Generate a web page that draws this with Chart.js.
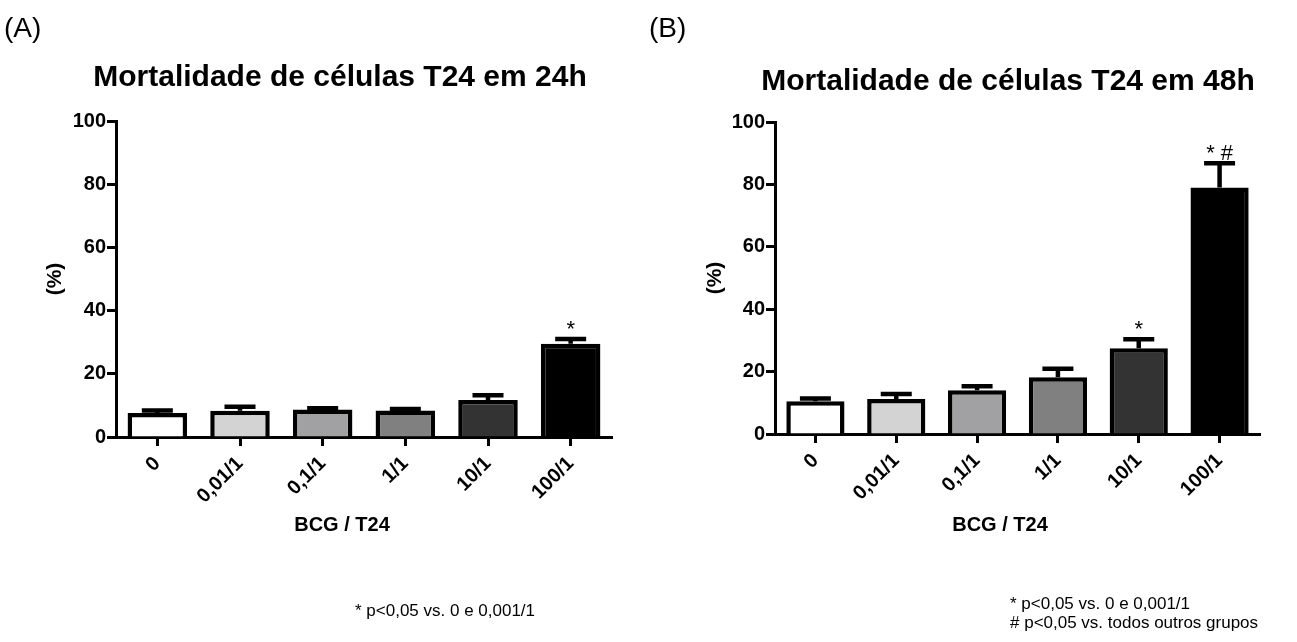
<!DOCTYPE html>
<html>
<head>
<meta charset="utf-8">
<script src="https://cdn.jsdelivr.net/npm/chart.js@4.4.1/dist/chart.umd.min.js"></script>
<style>
  html, body { margin: 0; padding: 0; background: #fff; }
  body { width: 1297px; height: 642px; position: relative; overflow: hidden;
         font-family: "Liberation Sans", Arial, sans-serif; color: #000; }
  .panel { position: absolute; top: 0; height: 642px; }
  #wrapA { left: 0; width: 650px; }
  #wrapB { left: 650px; width: 647px; }
  .txt { position: absolute; white-space: nowrap; line-height: 1; }
  .letter { font-size: 28px; }
  .title { font-size: 30px; font-weight: bold; transform: translate(-50%, -50%); }
  .axis { font-size: 20px; font-weight: bold; transform: translate(-50%, -50%); }
  .note { font-size: 17px; transform: translateY(-50%); }
</style>
</head>
<body>
<div class="panel" id="wrapA"><canvas id="chartA" width="650" height="642"></canvas></div>
<div class="panel" id="wrapB"><canvas id="chartB" width="647" height="642"></canvas></div>

<div class="txt letter" style="left:4px; top:14px;">(A)</div>
<div class="txt letter" style="left:649px; top:14px;">(B)</div>
<div class="txt title" style="left:340px; top:76px;">Mortalidade de células T24 em 24h</div>
<div class="txt title" style="left:1008px; top:80px;">Mortalidade de células T24 em 48h</div>
<div class="txt axis" style="left:342px; top:524px;">BCG / T24</div>
<div class="txt axis" style="left:1000px; top:524px;">BCG / T24</div>
<div class="txt note" style="left:355px; top:610px;">* p&lt;0,05 vs. 0 e 0,001/1</div>
<div class="txt note" style="left:1010px; top:603px;">* p&lt;0,05 vs. 0 e 0,001/1</div>
<div class="txt note" style="left:1010px; top:622px;"># p&lt;0,05 vs. todos outros grupos</div>

<script>
// BCG : T24 ratios on the x axis
const ratios = ['0', '0,01/1', '0,1/1', '1/1', '10/1', '100/1'];
const yTicks = [0, 20, 40, 60, 80, 100];

// Mortality (%) after 24 h, with upper error (SEM)
const mortality24h = [7.6, 8.3, 8.7, 8.4, 11.7, 29.5];
const error24h     = [0.8, 1.3, 0.4, 0.5, 1.5, 1.5];
const marks24h     = ['', '', '', '', '', '*'];

// Mortality (%) after 48 h, with upper error (SEM)
const mortality48h = [10.5, 11.2, 14.0, 18.2, 27.5, 79.0];
const error48h     = [0.9, 1.6, 1.3, 2.7, 2.9, 7.8];
const marks48h     = ['', '', '', '', '*', '* #'];

// Grey ramp used for the bars, light to dark
const barFills = ['#ffffff', '#d3d3d3', '#a1a1a4', '#808080', '#333333', '#000000'];

const FONT = '"Liberation Sans", Arial, sans-serif';

// Draws one-sided error bars with caps and the significance marks above them
const errorBars = {
  id: 'errorBars',
  afterDatasetsDraw(chart, args, opts) {
    const { ctx } = chart;
    const yScale = chart.scales.y;
    const values = chart.data.datasets[0].data;
    const meta = chart.getDatasetMeta(0);
    ctx.save();
    ctx.strokeStyle = '#000';
    ctx.fillStyle = '#000';
    ctx.lineWidth = 4.5;
    meta.data.forEach((bar, i) => {
      const base = yScale.getPixelForValue(values[i]);
      const top = yScale.getPixelForValue(values[i] + opts.errors[i]);
      const half = opts.capWidth / 2;
      ctx.beginPath();
      ctx.moveTo(bar.x, base);
      ctx.lineTo(bar.x, top);
      ctx.moveTo(bar.x - half, top);
      ctx.lineTo(bar.x + half, top);
      ctx.stroke();
      const mark = opts.marks[i];
      if (mark) {
        ctx.font = '22px ' + FONT;
        ctx.textAlign = 'center';
        ctx.textBaseline = 'alphabetic';
        ctx.fillText(mark, bar.x, top - 3);
      }
    });
    ctx.restore();
  }
};

function makeChart(id, values, errors, marks, pad, yWidth, xHeight) {
  return new Chart(document.getElementById(id), {
    type: 'bar',
    data: {
      labels: ratios,
      datasets: [{
        data: values,
        backgroundColor: barFills,
        borderColor: '#000',
        borderWidth: 4.5,
        borderSkipped: 'start',
        barPercentage: 0.72,
        categoryPercentage: 1.0
      }]
    },
    options: {
      responsive: false,
      animation: false,
      events: [],
      layout: { padding: pad },
      plugins: {
        legend: { display: false },
        tooltip: { enabled: false },
        errorBars: { errors, marks, capWidth: 31 }
      },
      scales: {
        x: {
          offset: true,
          grid: { display: true, drawOnChartArea: false, drawTicks: true, offset: false,
                  tickLength: 9, tickWidth: 3, tickColor: '#000' },
          border: { display: true, color: '#000', width: 3 },
          ticks: { color: '#000', font: { family: FONT, size: 20, weight: 'bold' },
                   minRotation: 45, maxRotation: 45, autoSkip: false, padding: 6 },
          afterFit(scale) { scale.height = xHeight; }
        },
        y: {
          min: 0, max: 100,
          afterBuildTicks(scale) { scale.ticks = yTicks.map(v => ({ value: v })); },
          grid: { display: true, drawOnChartArea: false, drawTicks: true,
                  tickLength: 9, tickWidth: 3, tickColor: '#000' },
          border: { display: true, color: '#000', width: 3 },
          ticks: { color: '#000', font: { family: FONT, size: 20, weight: 'bold' }, padding: 1 },
          title: { display: true, text: '(%)', color: '#000',
                   font: { family: FONT, size: 21, weight: 'bold' }, padding: 0 },
          afterFit(scale) { scale.width = yWidth; }
        }
      }
    },
    plugins: [errorBars]
  });
}

makeChart('chartA', mortality24h, error24h, marks24h,
          { left: 43, top: 121, right: 38, bottom: 106 }, 73, 99);
makeChart('chartB', mortality48h, error48h, marks48h,
          { left: 53, top: 122, right: 37, bottom: 106 }, 72, 102);
</script>
</body>
</html>
